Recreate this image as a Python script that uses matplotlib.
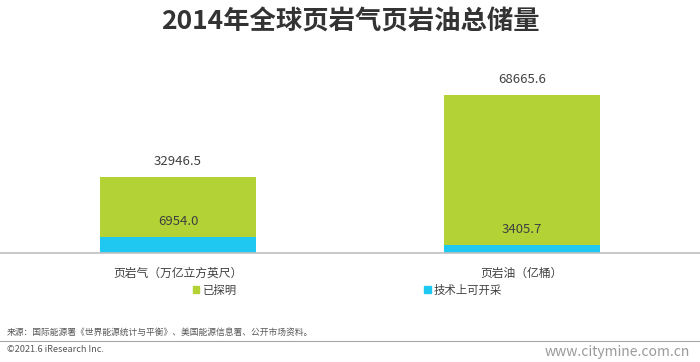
import matplotlib.pyplot as plt
from matplotlib.patches import Patch

plt.rcParams['font.family'] = ['Noto Sans CJK SC', 'DejaVu Sans']

categories = ['页岩气（万亿立方英尺）', '页岩油（亿桶）']
proven = [32946.5, 68665.6]
recoverable = [6954.0, 3405.7]
series_names = ['已探明', '技术上可开采']

green = '#B2D235'
blue = '#1EC8F0'
text_color = '#404040'

fig = plt.figure(figsize=(7, 3.62), dpi=100)
ax = fig.add_axes([0, 109 / 362, 1, 193 / 362])

x = list(range(len(categories)))
ax.bar(x, proven, width=0.4535, color=green)
ax.bar(x, recoverable, width=0.4535, color=blue)

for i in x:
    ax.annotate('{:.1f}'.format(proven[i]), (i, proven[i]), xytext=(0, 11),
                textcoords='offset points', ha='center', va='center',
                fontsize=9.5, color=text_color)
    ax.annotate('{:.1f}'.format(recoverable[i]), (i, recoverable[i]), xytext=(0, 11),
                textcoords='offset points', ha='center', va='center',
                fontsize=9.5, color=text_color)

ax.set_xlim(-0.5174, 1.5174)
ax.set_ylim(0, 83650)
ax.set_xticks(x)
ax.set_xticklabels(categories, fontsize=8.5, color=text_color)
ax.tick_params(axis='x', length=0, pad=10)
ax.set_yticks([])
for s in ['top', 'right', 'left']:
    ax.spines[s].set_visible(False)
ax.spines['bottom'].set_color('#BFBFBF')
ax.spines['bottom'].set_linewidth(1.2)

fig.text(0.5, 1 - 22 / 362, '2014年全球页岩气页岩油总储量', ha='center', va='center',
         fontsize=19, fontweight='bold', color='#333333')

handles = [Patch(color=green), Patch(color=blue)]
fig.legend(handles, series_names, loc='center', bbox_to_anchor=(0.4964, 1 - 290 / 362),
           ncol=2, frameon=False, fontsize=8.2, handlelength=0.6, handleheight=0.6,
           handletextpad=0.3, columnspacing=16.4, labelcolor=text_color)

fig.text(7 / 700, 1 - 333 / 362, '来源：国际能源署《世界能源统计与平衡》、美国能源信息署、公开市场资料。',
         ha='left', va='center', fontsize=6.3, color='#595959')
fig.add_artist(plt.Line2D([0, 1], [1 - 341 / 362, 1 - 341 / 362], color='#A6A6A6', lw=0.8))
fig.text(7 / 700, 1 - 349 / 362, '©2021.6 iResearch Inc.', ha='left', va='center',
         fontsize=6.6, color='#595959')
fig.text(690 / 700, 1 - 352 / 362, 'www.citymine.com.cn', ha='right', va='center',
         fontsize=10, color='#9A9A9A')

fig.savefig('out.png', dpi=100)
